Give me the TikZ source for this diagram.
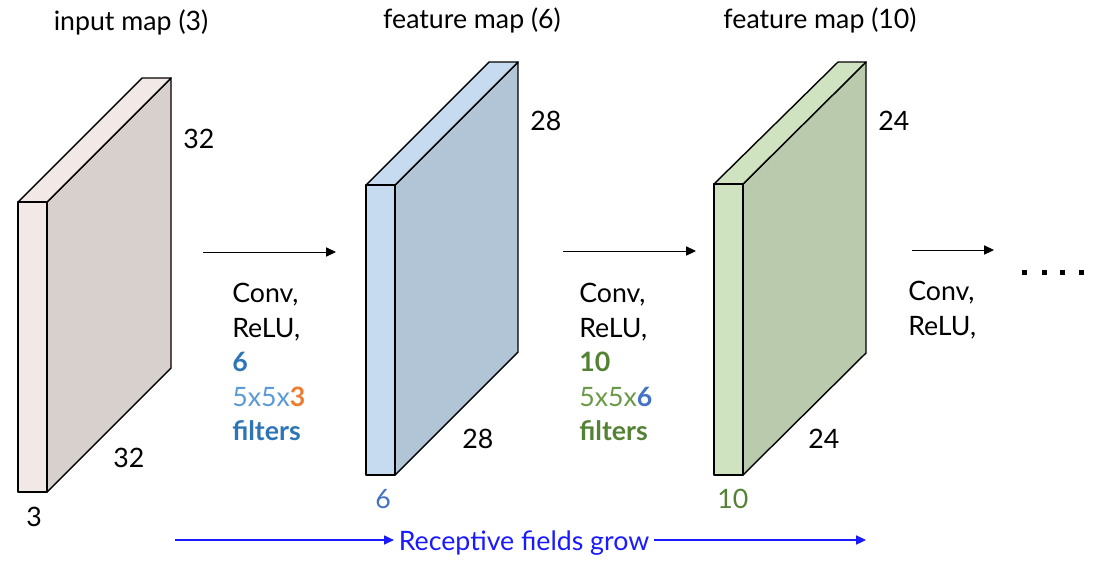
\documentclass[tikz,border=0pt]{standalone}
\usepackage{fontspec}
\setmainfont{Lato}
\usepackage{xcolor}
\usepackage{tikz}
\usetikzlibrary{arrows.meta,positioning,calc}

\definecolor{frontA}{HTML}{F2E9E6}
\definecolor{sideA}{HTML}{D8D0CC}
\definecolor{frontB}{HTML}{C6DBEF}
\definecolor{sideB}{HTML}{B1C5D7}
\definecolor{frontC}{HTML}{CFE3C0}
\definecolor{sideC}{HTML}{B9CBAC}
\definecolor{bluedk}{HTML}{2E75B6}
\definecolor{bluelt}{HTML}{5B9BD5}
\definecolor{bluesx}{HTML}{4472C4}
\definecolor{orng}{HTML}{ED7D31}
\definecolor{grn}{HTML}{548235}
\definecolor{grnlt}{HTML}{6A9A48}
\definecolor{rfblue}{HTML}{1A1AFF}

\begin{document}
\begin{tikzpicture}[
  x=0.025cm, y=-0.025cm,
  >=Stealth,
  font=\fontsize{19}{23}\selectfont,
  face/.style={draw=black, line width=1pt, line join=round},
  lbl/.style={anchor=base west, inner sep=0pt},
  title/.style={anchor=base, inner sep=0pt},
  flow/.style={-{Triangle[length=7pt,width=6.5pt]}, line width=0.6pt},
  rfarrow/.style={-{Triangle[length=7pt,width=6.5pt]}, line width=0.8pt, draw=rfblue!75, color=rfblue}
]
\useasboundingbox (0,0) rectangle (1097,567);

% ==================== input map ====================
\node (tin) [title] at (131,30) {input map (3)};
\draw[face, fill=sideA] (47,202) -- (171,78) -- (171,368) -- (47,492) -- cycle;
\draw[face, fill=frontA] (18,202) -- (142,78) -- (171,78) -- (47,202) -- cycle;
\draw[face, fill=frontA] (18,202) rectangle (47,492);
\node (ha) [lbl] at (183,148) {32};
\node (wa) [lbl] at (113,467) {32};
\node (da) [lbl] at (26,526) {3};

% ==================== feature map (6) ====================
\node (tfb) [title] at (472,28) {feature map (6)};
\draw[face, fill=sideB] (395,185) -- (518,62) -- (518,352) -- (395,475) -- cycle;
\draw[face, fill=frontB] (366,185) -- (489,62) -- (518,62) -- (395,185) -- cycle;
\draw[face, fill=frontB] (366,185) rectangle (395,475);
\node (hb) [lbl] at (530,130) {28};
\node (wb) [lbl] at (462,448) {28};
\node (db) [lbl, text=bluesx] at (375,508) {6};

% ==================== feature map (10) ====================
\node (tfc) [title] at (820,28) {feature map (10)};
\draw[face, fill=sideC] (743,184) -- (866,62) -- (866,353) -- (743,475) -- cycle;
\draw[face, fill=frontC] (714,184) -- (838,62) -- (866,62) -- (743,184) -- cycle;
\draw[face, fill=frontC] (714,184) rectangle (743,475);
\node (hc) [lbl] at (878,130) {24};
\node (wc) [lbl] at (808,448) {24};
\node (dc) [lbl, text=grn] at (717,508) {10};

% ==================== layer arrows ====================
\coordinate (s1) at (203,252);
\coordinate (e1) at (336,252);
\coordinate (s2) at (563,251);
\coordinate (e2) at (696,251);
\coordinate (s3) at (912,250);
\coordinate (e3) at (994,250);
\draw[flow] (s1) -- (e1);
\draw[flow] (s2) -- (e2);
\draw[flow] (s3) -- (e3);

% Conv block 1
\node (conva) [lbl] at (232,302) {Conv,};
\node (relua) [lbl] at (232,337) {ReLU,};
\node (numa)  [lbl, text=bluedk] at (232,371) {\bfseries 6};
\node (knla)  [lbl, text=bluelt] at (232,406) {5x5x\textcolor{orng}{\bfseries 3}};
\node (filta) [lbl, text=bluedk] at (232,440) {\bfseries filters};

% Conv block 2
\node (convb) [lbl] at (579,302) {Conv,};
\node (relub) [lbl] at (579,337) {ReLU,};
\node (numb)  [lbl, text=grn] at (579,371) {\bfseries 10};
\node (knlb)  [lbl, text=grnlt] at (579,406) {5x5x\textcolor{bluesx}{\bfseries 6}};
\node (filtb) [lbl, text=grn] at (579,440) {\bfseries filters};

% Conv block 3
\node (convc) [lbl] at (908,300) {Conv,};
\node (reluc) [lbl] at (908,335) {ReLU,};

% dots
\foreach \dx in {1022,1042,1060,1079}
  \fill (\dx,270) rectangle ++(5,5);

% ==================== receptive field ====================
\node (rfg) [anchor=base, text=rfblue] at (524,550) {Receptive fields grow};
\coordinate (rfa) at (175,540);
\coordinate (rfb) at (866,540);
\draw[rfarrow] (rfa) -- (rfa -| rfg.west);
\draw[rfarrow] (rfb -| rfg.east) -- (rfb);

\end{tikzpicture}
\end{document}
